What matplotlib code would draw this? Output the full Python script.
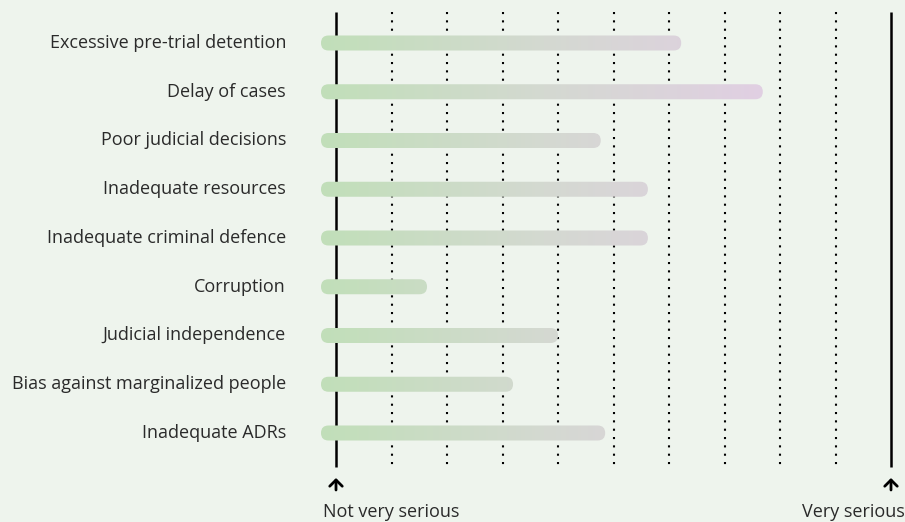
import matplotlib
matplotlib.use('Agg')

import numpy as np
import matplotlib.pyplot as plt
from matplotlib.patches import FancyBboxPatch
from matplotlib.colors import LinearSegmentedColormap

# issues, top to bottom, and where each bar ends on the 0-10 scale
issues = [
    'Excessive pre-trial detention',
    'Delay of cases',
    'Poor judicial decisions',
    'Inadequate resources',
    'Inadequate criminal defence',
    'Corruption',
    'Judicial independence',
    'Bias against marginalized people',
    'Inadequate ADRs',
]
scores = [6.22, 7.69, 4.77, 5.62, 5.62, 1.64, 4.0, 3.19, 4.85]
scale_ticks = list(range(0, 11))
low_label = 'Not very serious'
high_label = 'Very serious'

BG = '#eef4ed'
FONT = 'Open Sans'
TXT = '#2a2a2a'

fig = plt.figure(figsize=(9.05, 5.22), dpi=100, facecolor=BG)
ax = fig.add_axes([0, 0, 1, 1])
ax.set_facecolor(BG)
ax.axis('off')

# pixel layout -> data limits
px_per_unit = 55.5
x0_px = 336
row_px = 48.75
row0_px = 43
ax.set_xlim(-x0_px / px_per_unit, (905 - x0_px) / px_per_unit)
ax.set_ylim((522 - row0_px) / row_px, -row0_px / row_px)

line_top = (12 - row0_px) / row_px
line_bot = (467 - row0_px) / row_px

for t in scale_ticks:
    if t in (scale_ticks[0], scale_ticks[-1]):
        ax.plot([t, t], [line_top, line_bot], color='black', lw=1.8,
                solid_capstyle='butt', zorder=1)
    else:
        ax.plot([t, t], [line_top, line_bot], color='black', lw=1.5,
                linestyle=(0, (1, 3)), zorder=1)

# gradient bars
cmap = LinearSegmentedColormap.from_list(
    'grad', ['#c1dfb9', '#d4d9d1', '#e1cfe3'])
grad = np.linspace(0, 1, 256).reshape(1, -1)
bar_start = -15 / px_per_unit
grad_end = (766 - x0_px) / px_per_unit
bar_h = 15 / row_px
r_x = 7.5 / px_per_unit
r_y = 7.5 / row_px

for i, (name, s) in enumerate(zip(issues, scores)):
    box = FancyBboxPatch((bar_start, i - bar_h / 2), s - bar_start, bar_h,
                         boxstyle='round,pad=0,rounding_size=%f' % r_x,
                         mutation_aspect=r_y / r_x,
                         facecolor='none', edgecolor='none')
    ax.add_patch(box)
    im = ax.imshow(grad, cmap=cmap, aspect='auto',
                   extent=[bar_start, grad_end, i + 0.5, i - 0.5],
                   interpolation='bicubic', zorder=2)
    im.set_clip_path(box)
    ax.text(-50 / px_per_unit, i, name, ha='right', va='center',
            fontsize=13, family=FONT, color=TXT)

# arrows and end labels
arrow_bot = (490 - row0_px) / row_px
arrow_top = (478 - row0_px) / row_px
label_y = (517 - row0_px) / row_px
for t in (scale_ticks[0], scale_ticks[-1]):
    ax.annotate('', xy=(t, arrow_top), xytext=(t, arrow_bot),
                arrowprops=dict(arrowstyle='->,head_width=0.45,head_length=0.45',
                                lw=2, color='black', shrinkA=0, shrinkB=0))
ax.text(-13 / px_per_unit, label_y, low_label, ha='left', va='baseline',
        fontsize=13, family=FONT, color=TXT)
ax.text((905 - x0_px) / px_per_unit, label_y, high_label, ha='right',
        va='baseline', fontsize=13, family=FONT, color=TXT)

fig.savefig('out.png', dpi=100, facecolor=BG)
